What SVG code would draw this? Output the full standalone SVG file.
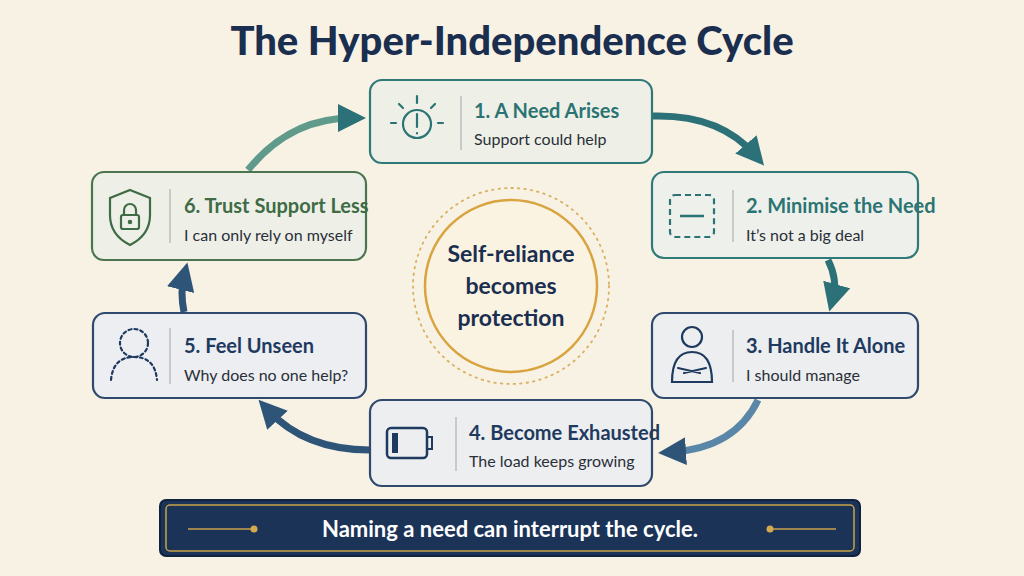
<svg xmlns="http://www.w3.org/2000/svg" width="1024" height="576" viewBox="0 0 1024 576">
<defs>
<style>
.t{font-family:"Lato","Liberation Sans",sans-serif;font-weight:700;font-size:20px}
.s{font-family:"Lato","Liberation Sans",sans-serif;font-size:16px;fill:#2a2f38}
.box{stroke-width:2.2}
.teal{fill:#2b7473}.navy{fill:#1f3a5f}.green{fill:#3f6b45}
.ic{fill:none;stroke-width:2.2;stroke-linecap:round}
.sep{stroke:#b9bfbf;stroke-width:1.5}
.arr{fill:none;stroke-width:7;stroke-linecap:butt}
</style>
<marker id="ht" viewBox="0 0 10 10" refX="5" refY="5" markerWidth="4" markerHeight="4" orient="auto" markerUnits="strokeWidth"><path d="M0,0L10,5L0,10z" fill="#2c7178"/></marker>
<marker id="hn" viewBox="0 0 10 10" refX="5" refY="5" markerWidth="4" markerHeight="4" orient="auto" markerUnits="strokeWidth"><path d="M0,0L10,5L0,10z" fill="#2e5577"/></marker>
</defs>
<rect width="1024" height="576" fill="#f8f2e4"/>
<text x="512" y="55" text-anchor="middle" font-family="Lato,'Liberation Sans',sans-serif" font-weight="900" font-size="40" fill="#1a2e4f">The Hyper-Independence Cycle</text>

<g id="connectors">
<path class="arr" stroke="#2c7178" marker-end="url(#ht)" d="M652,116 Q720,114 755,155"/>
<path class="arr" stroke="#2c7178" marker-end="url(#ht)" d="M828,260 Q838,280 833,298"/>
<path class="arr" stroke="#5a86a8" marker-end="url(#hn)" d="M758,400 Q735,448 672,452"/>
<path class="arr" stroke="#2e5577" marker-end="url(#hn)" d="M370,450 Q305,450 268,410"/>
<path class="arr" stroke="#2e5577" marker-end="url(#hn)" d="M184,312 Q180,292 184,276"/>
<path class="arr" stroke="#5f9a8a" marker-end="url(#ht)" d="M248,170 Q290,118 352,118"/>
</g>

<g id="center">
<circle cx="511" cy="286" r="98" fill="none" stroke="#d9b060" stroke-width="1.8" stroke-dasharray="1.5 5" stroke-linecap="round"/>
<circle cx="511" cy="286" r="86" fill="#fbf3e2" stroke="#d9a440" stroke-width="2.5"/>
<text text-anchor="middle" font-family="Lato,'Liberation Sans',sans-serif" font-weight="700" font-size="23" fill="#1a2e4f"><tspan x="511" y="262">Self-reliance</tspan><tspan x="511" y="294">becomes</tspan><tspan x="511" y="326">protection</tspan></text>
</g>

<g id="n1">
<rect class="box" x="370" y="80" width="282" height="83" rx="12" fill="#eef0e8" stroke="#2f7a78"/>
<g class="ic" stroke="#2b7473"><circle cx="417" cy="124" r="14"/><line x1="417" y1="114" x2="417" y2="127"/><line x1="417" y1="133" x2="417" y2="133.5"/><line x1="417" y1="96" x2="417" y2="103"/><line x1="399" y1="104" x2="403" y2="108"/><line x1="435" y1="104" x2="431" y2="108"/><line x1="391" y1="123" x2="396" y2="123"/><line x1="438" y1="123" x2="443" y2="123"/></g>
<line class="sep" x1="461" y1="96" x2="461" y2="150"/>
<text class="t teal" x="474" y="118">1. A Need Arises</text>
<text class="s" x="474" y="145">Support could help</text>
</g>

<g id="n2">
<rect class="box" x="652" y="172" width="266" height="86" rx="12" fill="#eef0ec" stroke="#2f7a78"/>
<rect x="670" y="195" width="44" height="42" rx="5" fill="none" stroke="#2b7473" stroke-width="2.2" stroke-dasharray="6 4"/>
<line x1="680" y1="216" x2="704" y2="216" stroke="#2b7473" stroke-width="2.5"/>
<line class="sep" x1="733" y1="190" x2="733" y2="242"/>
<text class="t teal" x="746" y="213">2. Minimise the Need</text>
<text class="s" x="746" y="241">It’s not a big deal</text>
</g>

<g id="n3">
<rect class="box" x="652" y="313" width="266" height="85" rx="12" fill="#eceef0" stroke="#2f4a6e"/>
<g class="ic" stroke="#1f3a5f"><circle cx="692" cy="337" r="10"/><path d="M672,382 Q672,352 692,352 Q712,352 712,382 Z"/><path d="M678,368 L700,373 M706,368 L684,373"/></g>
<line class="sep" x1="733" y1="330" x2="733" y2="382"/>
<text class="t navy" x="746" y="353">3. Handle It Alone</text>
<text class="s" x="746" y="381">I should manage</text>
</g>

<g id="n4">
<rect class="box" x="370" y="400" width="282" height="86" rx="12" fill="#eceef0" stroke="#2f4a6e"/>
<rect x="387" y="428" width="40" height="30" rx="4" fill="none" stroke="#1f3a5f" stroke-width="2.5"/>
<rect x="427" y="437" width="5" height="12" fill="none" stroke="#1f3a5f" stroke-width="2"/>
<rect x="392" y="433" width="6" height="20" fill="#1f3a5f"/>
<line class="sep" x1="456" y1="417" x2="456" y2="471"/>
<text class="t navy" x="469" y="440" font-size="19">4. Become Exhausted</text>
<text class="s" x="469" y="467" font-size="15">The load keeps growing</text>
</g>

<g id="n5">
<rect class="box" x="93" y="313" width="273" height="85" rx="12" fill="#eceef2" stroke="#2f4a6e"/>
<g class="ic" stroke="#1f3a5f" stroke-width="1.6" stroke-dasharray="3 3"><circle cx="134" cy="343" r="14"/><path d="M111,380 Q113,357 134,357 Q155,357 157,380"/></g>
<line class="sep" x1="170" y1="328" x2="170" y2="384"/>
<text class="t navy" x="184" y="353">5. Feel Unseen</text>
<text class="s" x="184" y="381">Why does no one help?</text>
</g>

<g id="n6">
<rect class="box" x="92" y="172" width="274" height="88" rx="12" fill="#eef0e8" stroke="#4a7550"/>
<g class="ic" stroke="#3f6b45"><path d="M130,190 L150,198 L150,215 Q150,235 130,245 Q110,235 110,215 L110,198 Z"/><rect x="121" y="215" width="18" height="14" rx="2"/><path d="M124,215 V210 A6,6 0 0 1 136,210 V215"/><circle cx="130" cy="222" r="1.2"/></g>
<line class="sep" x1="170" y1="189" x2="170" y2="243"/>
<text class="t green" x="184" y="213">6. Trust Support Less</text>
<text class="s" x="184" y="241">I can only rely on myself</text>
</g>

<g id="banner">
<rect x="160" y="500" width="700" height="56" rx="6" fill="#1c3358" stroke="#0f2240" stroke-width="2"/>
<rect x="166" y="505" width="688" height="46" rx="4" fill="none" stroke="#c9a24a" stroke-width="1.5"/>
<line x1="188" y1="529" x2="253" y2="529" stroke="#c9a24a" stroke-width="1.5"/><circle cx="254" cy="529" r="3.5" fill="#d4aa4e"/>
<line x1="770" y1="529" x2="836" y2="529" stroke="#c9a24a" stroke-width="1.5"/><circle cx="770" cy="529" r="3.5" fill="#d4aa4e"/>
<text x="510" y="537" text-anchor="middle" font-family="Lato,'Liberation Sans',sans-serif" font-weight="700" font-size="22" fill="#ffffff">Naming a need can interrupt the cycle.</text>
</g>
</svg>
